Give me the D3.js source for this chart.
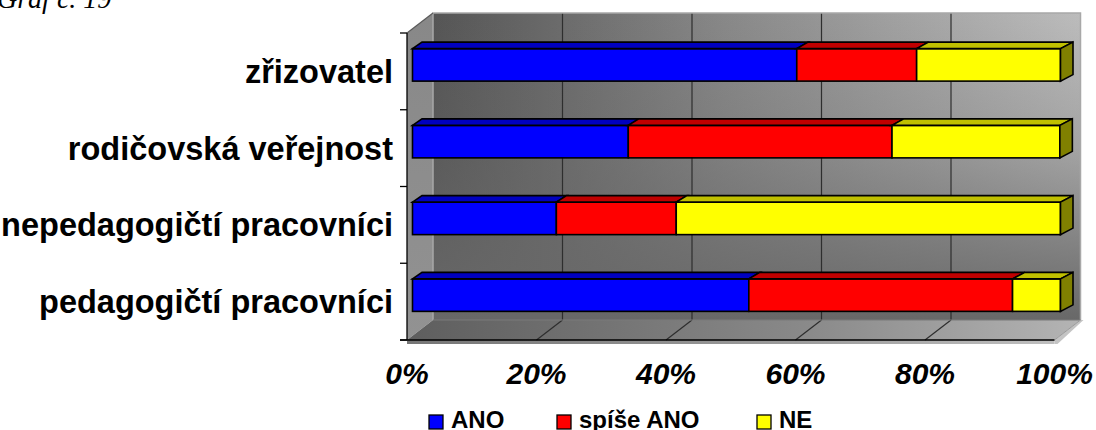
<!DOCTYPE html>
<html>
<head>
<meta charset="utf-8">
<script src="https://cdn.jsdelivr.net/npm/d3@7"></script>
<style>
  html, body { margin: 0; padding: 0; background: #fff; }
  svg { display: block; }
  .sans { font-family: "Liberation Sans", Arial, sans-serif; }
  .serif { font-family: "Liberation Serif", "Times New Roman", serif; }
</style>
</head>
<body>
<svg id="chart" width="1096" height="430"></svg>
<script>
// Survey answers (share of respondents, %), categories listed bottom to top
const categories = ["pedagogičtí pracovníci", "nepedagogičtí pracovníci", "rodičovská veřejnost", "zřizovatel"];
const ano       = [51.9, 22.2, 33.3, 59.3];
const spiseAno  = [40.7, 18.5, 40.7, 18.5];
const ne        = [7.4, 59.3, 25.9, 22.2];
const seriesNames = ["ANO", "spíše ANO", "NE"];
const xTickValues = [0, 20, 40, 60, 80, 100];
const xTickLabels = ["0%", "20%", "40%", "60%", "80%", "100%"];
const titleText = "Graf č. 19";

const seriesKeys = ["ano", "spiseAno", "ne"];
const faceColor = { ano: "#0000ff", spiseAno: "#ff0000", ne: "#ffff00" };
const topColor  = { ano: "#0000c0", spiseAno: "#c00000", ne: "#c0c000" };
const sideColor = { ano: "#000080", spiseAno: "#800000", ne: "#808000" };

const rows = categories.map((c, i) => ({ cat: c, ano: ano[i], spiseAno: spiseAno[i], ne: ne[i] }));
const stacked = d3.stack().keys(seriesKeys)(rows);

const svg = d3.select("#chart");
const defs = svg.append("defs");

// 3D box geometry: front plane, depth offset of the walls
const wallDX = 26, wallDY = -20;
const xFront = d3.scaleLinear().domain([0, 100]).range([407, 1054.5]);
const y = d3.scaleBand().domain(categories.slice().reverse()).range([33, 340]).paddingInner(0).paddingOuter(0);
const floorY = 340, topY = 33;

// bars sit slightly behind the front plane
const xBar = d3.scaleLinear().domain([0, 100]).range([412.5, 1060.5]);
const barShiftY = -6.5, barH = 32.5;
const barDY = -6.5;
const barDX = x => 9.5 + 3 * (x - 412.5) / 648;

// gradients
const gWall = defs.append("linearGradient").attr("id", "wallH").attr("x1", 0).attr("x2", 1).attr("y1", 0).attr("y2", 0);
gWall.append("stop").attr("offset", 0).attr("stop-color", "#555555");
gWall.append("stop").attr("offset", 0.45).attr("stop-color", "#888888");
gWall.append("stop").attr("offset", 1).attr("stop-color", "#bcbcbc");
const gShade = defs.append("linearGradient").attr("id", "wallV").attr("x1", 0).attr("x2", 0).attr("y1", 0).attr("y2", 1);
gShade.append("stop").attr("offset", 0).attr("stop-color", "#686868").attr("stop-opacity", 0);
gShade.append("stop").attr("offset", 0.45).attr("stop-color", "#686868").attr("stop-opacity", 0.3);
gShade.append("stop").attr("offset", 1).attr("stop-color", "#686868").attr("stop-opacity", 1);
const gFloor = defs.append("linearGradient").attr("id", "floorG").attr("x1", 0).attr("x2", 1).attr("y1", 0).attr("y2", 0);
gFloor.append("stop").attr("offset", 0).attr("stop-color", "#5e5e5e");
gFloor.append("stop").attr("offset", 0.6).attr("stop-color", "#8a8a8a");
gFloor.append("stop").attr("offset", 1).attr("stop-color", "#b4b4b4");
const gLeft = defs.append("linearGradient").attr("id", "leftG").attr("x1", 0).attr("x2", 0).attr("y1", 0).attr("y2", 1);
gLeft.append("stop").attr("offset", 0).attr("stop-color", "#888888");
gLeft.append("stop").attr("offset", 1).attr("stop-color", "#929292");

const poly = pts => "M" + pts.map(p => p.join(",")).join("L") + "Z";

const x0 = xFront(0), x1 = xFront(100);

// back wall
const backX0 = x0 + wallDX, backX1 = x1 + wallDX, backY0 = topY + wallDY, backY1 = floorY + wallDY;
svg.append("rect").attr("x", backX0).attr("y", backY0).attr("width", backX1 - backX0).attr("height", backY1 - backY0).attr("fill", "url(#wallH)");
svg.append("rect").attr("x", backX0).attr("y", backY0).attr("width", backX1 - backX0).attr("height", backY1 - backY0).attr("fill", "url(#wallV)");

// left side wall
svg.append("path").attr("d", poly([[x0, topY], [backX0, backY0], [backX0, backY1], [x0, floorY]])).attr("fill", "url(#leftG)");

// floor and its front edge thickness
svg.append("path").attr("d", poly([[x0, floorY], [x1, floorY], [backX1, backY1], [backX0, backY1]])).attr("fill", "url(#floorG)");
svg.append("path").attr("d", poly([[x0, floorY], [x1, floorY], [x1, floorY + 4], [x0, floorY + 4]])).attr("fill", "url(#floorG)").attr("opacity", 0.85);
svg.append("path").attr("d", poly([[x1, floorY], [backX1, backY1], [backX1 + 3, backY1], [x1 + 3, floorY + 4], [x1, floorY + 4]])).attr("fill", "#c4c4c4");

// gridlines on back wall and floor
const grid = svg.append("g");
xTickValues.slice(1, -1).forEach(v => {
  const xf = xFront(v);
  grid.append("line").attr("x1", xf + wallDX).attr("x2", xf + wallDX).attr("y1", backY0).attr("y2", backY1)
    .attr("stroke", "#2e2e2e").attr("stroke-width", 1.2);
  grid.append("line").attr("x1", xf).attr("x2", xf + wallDX).attr("y1", floorY).attr("y2", backY1)
    .attr("stroke", "#2e2e2e").attr("stroke-width", 1.2);
});
// wall borders
grid.append("path").attr("d", `M${backX0},${backY1}L${backX0},${backY0}L${backX1},${backY0}L${backX1},${backY1}`)
  .attr("fill", "none").attr("stroke", "#a8a8a8").attr("stroke-width", 1.5);
grid.append("line").attr("x1", backX0).attr("x2", backX1).attr("y1", backY1).attr("y2", backY1)
  .attr("stroke", "#7a7a7a").attr("stroke-width", 1);
grid.append("line").attr("x1", x0).attr("y1", topY).attr("x2", backX0).attr("y2", backY0)
  .attr("stroke", "#5a5a5a").attr("stroke-width", 1.2);
grid.append("line").attr("x1", x1).attr("y1", floorY).attr("x2", backX1).attr("y2", backY1)
  .attr("stroke", "#9a9a9a").attr("stroke-width", 1);

// axes lines
const axisG = svg.append("g").attr("stroke", "#000").attr("stroke-width", 1.3);
axisG.append("line").attr("x1", x0).attr("x2", x0).attr("y1", topY).attr("y2", floorY);
axisG.append("line").attr("x1", x0 - 7).attr("x2", x1).attr("y1", floorY).attr("y2", floorY);
const yTicks = y.domain().map(d => y(d)).concat([floorY]);
yTicks.forEach(t => axisG.append("line").attr("x1", x0 - 7).attr("x2", x0).attr("y1", t).attr("y2", t));

// bars
const barsG = svg.append("g").attr("stroke", "#000").attr("stroke-width", 1.6).attr("stroke-linejoin", "miter");
categories.forEach((cat, ci) => {
  const top = y(cat) + y.bandwidth() / 2 + barShiftY - barH / 2;
  const bottom = top + barH;
  stacked.forEach((layer, li) => {
    const key = layer.key;
    const a = xBar(layer[ci][0]), b = xBar(layer[ci][1]);
    if (b - a <= 0) return;
    barsG.append("rect").attr("x", a).attr("y", top).attr("width", b - a).attr("height", barH).attr("fill", faceColor[key]);
    barsG.append("path").attr("d", poly([[a, top], [b, top], [b + barDX(b), top + barDY], [a + barDX(a), top + barDY]]))
      .attr("fill", topColor[key]);
    if (li === stacked.length - 1) {
      barsG.append("path").attr("d", poly([[b, top], [b + barDX(b), top + barDY], [b + barDX(b), bottom + barDY], [b, bottom]]))
        .attr("fill", sideColor[key]);
    }
  });
});

// category labels
svg.append("g").attr("class", "sans").selectAll("text").data(categories).join("text")
  .attr("x", 393).attr("y", d => y(d) + y.bandwidth() / 2).attr("dy", "0.35em")
  .attr("text-anchor", "end").attr("font-size", 32.5).attr("font-weight", "bold").attr("fill", "#000")
  .text(d => d);

// percentage labels
svg.append("g").attr("class", "sans").selectAll("text").data(xTickValues).join("text")
  .attr("x", d => xFront(d)).attr("y", 384).attr("text-anchor", "middle")
  .attr("font-size", 30).attr("font-weight", "bold").attr("font-style", "italic").attr("fill", "#000")
  .text((d, i) => xTickLabels[i]);

// legend
const legendX = [429, 557, 757];
const lg = svg.append("g").attr("class", "sans");
seriesKeys.forEach((k, i) => {
  lg.append("rect").attr("x", legendX[i]).attr("y", 415).attr("width", 14).attr("height", 14)
    .attr("fill", faceColor[k]).attr("stroke", "#000").attr("stroke-width", 1.3);
  lg.append("text").attr("x", legendX[i] + 22).attr("y", 428).attr("font-size", 24).attr("font-weight", "bold")
    .attr("fill", "#000").text(seriesNames[i]);
});

// caption above the chart (clipped by the top edge)
svg.append("text").attr("class", "serif").attr("x", -3).attr("y", 8)
  .attr("font-style", "italic").attr("font-size", 28).attr("fill", "#000").text(titleText);
</script>
</body>
</html>
